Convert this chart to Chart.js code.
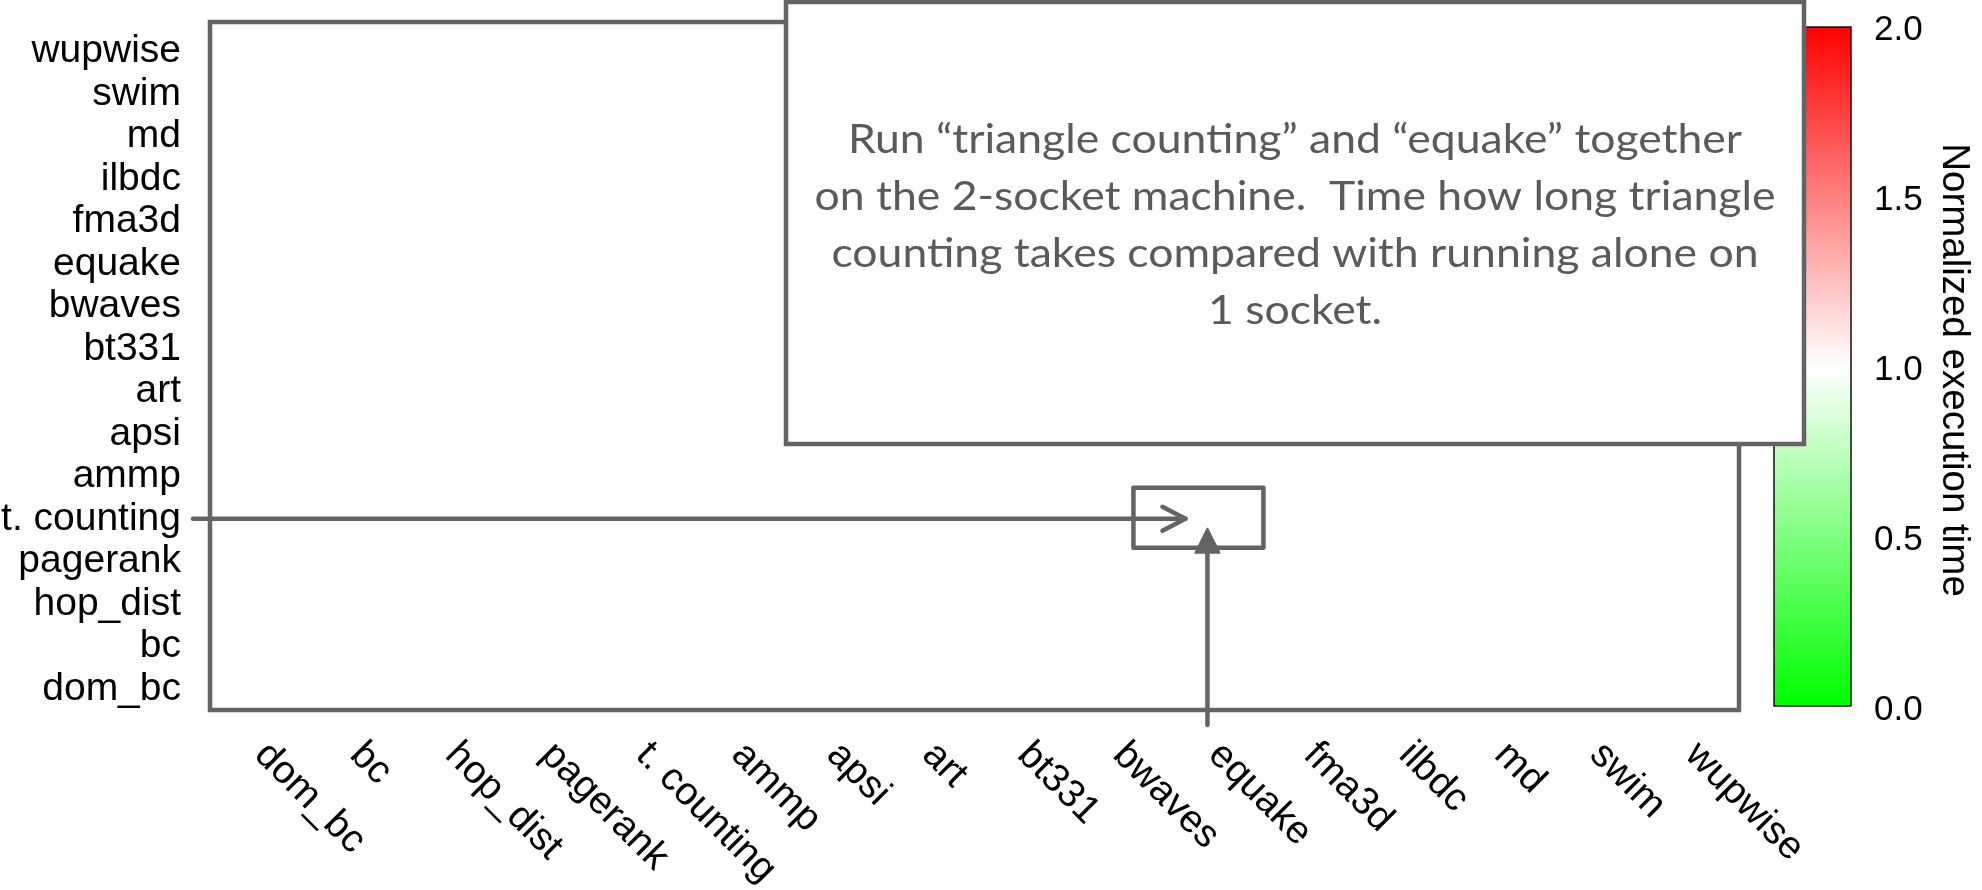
<!DOCTYPE html>
<html><head><meta charset="utf-8">
<script src="https://cdn.jsdelivr.net/npm/chart.js@4.4.1/dist/chart.umd.min.js"></script>
<style>html,body{margin:0;padding:0;background:#fff;}canvas{display:block;}</style>
</head><body>
<canvas id="c" width="1982" height="890"></canvas>
<script>
// ---- data ----
const xLabels = ['dom_bc','bc','hop_dist','pagerank','t. counting','ammp','apsi','art','bt331','bwaves','equake','fma3d','ilbdc','md','swim','wupwise'];
const yLabels = ['wupwise','swim','md','ilbdc','fma3d','equake','bwaves','bt331','art','apsi','ammp','t. counting','pagerank','hop_dist','bc','dom_bc'];
const highlightedPair = [{ x: 'equake', y: 't. counting' }];
const colorbarMin = 0;
const colorbarMax = 2;
const colorbarStep = 0.5;
const colorbarStopValues = [0, 1, 2];
const colorbarStopColors = ['#00ff00', '#ffffff', '#ff0000'];
const colorbarTitle = 'Normalized execution time';
const calloutLines = [
  'Run \u201ctriangle counting\u201d and \u201cequake\u201d together',
  'on the 2-socket machine.  Time how long triangle',
  'counting takes compared with running alone on',
  '1 socket.'
];

// ---- styles ----
const GREY = '#646464';
const LABEL_FONT = '"Liberation Sans", Arial, Helvetica, sans-serif';
const callout = { left: 786, top: 2, right: 1804, bottom: 444, firstBaseline: 153, lineStep: 57, widestLine: 961 };

const annot = {
  id: 'annot',
  afterDraw(chart) {
    const { ctx, chartArea: a, scales } = chart;
    const xs = scales.x, cb = scales.cb;
    const pt = chart.getDatasetMeta(0).data[0];
    const cx = pt.x, cy = pt.y;
    ctx.save();

    // plot frame
    ctx.strokeStyle = GREY; ctx.lineWidth = 4.5; ctx.lineJoin = 'miter';
    ctx.strokeRect(a.left + 4, a.top - 8, (a.right - a.left) + 3, (a.bottom - a.top) + 8);

    // rotated x labels
    ctx.font = '39px ' + LABEL_FONT;
    ctx.fillStyle = '#000'; ctx.textAlign = 'left'; ctx.textBaseline = 'middle';
    xLabels.forEach((lab, i) => {
      const px = xs.getPixelForValue(i);
      ctx.save();
      ctx.translate(px + 7, a.bottom + 39);
      ctx.rotate(Math.PI / 4);
      ctx.fillText(lab, 0, 0);
      ctx.restore();
    });

    // horizontal arrow from row label
    ctx.strokeStyle = GREY; ctx.fillStyle = GREY; ctx.lineWidth = 4.5;
    ctx.lineCap = 'round'; ctx.lineJoin = 'round';
    const tipX = cx - 22;
    ctx.beginPath(); ctx.moveTo(a.left - 13, cy); ctx.lineTo(tipX, cy); ctx.stroke();
    ctx.beginPath(); ctx.moveTo(tipX - 23, cy - 12); ctx.lineTo(tipX, cy); ctx.lineTo(tipX - 23, cy + 12); ctx.stroke();

    // vertical arrow from column label
    const tipY = cy + 10;
    ctx.beginPath(); ctx.moveTo(cx, a.bottom + 15); ctx.lineTo(cx, tipY + 18); ctx.stroke();
    ctx.beginPath(); ctx.moveTo(cx, tipY); ctx.lineTo(cx - 12, tipY + 24); ctx.lineTo(cx + 12, tipY + 24); ctx.closePath();
    ctx.fill(); ctx.lineWidth = 2; ctx.stroke();

    // highlight box
    ctx.lineWidth = 4.5; ctx.lineJoin = 'round';
    ctx.strokeRect(cx - 74, cy - 31, 130, 60);

    // colour bar
    const y2 = cb.getPixelForValue(colorbarMax) - 3;
    const y0 = cb.getPixelForValue(colorbarMin) - 4;
    const bx = cb.left + 42, bw = 77;
    const g = ctx.createLinearGradient(0, y0, 0, y2);
    colorbarStopValues.forEach((v, i) => g.addColorStop((v - colorbarMin) / (colorbarMax - colorbarMin), colorbarStopColors[i]));
    ctx.fillStyle = g;
    ctx.fillRect(bx, y2, bw, y0 - y2);
    ctx.strokeStyle = '#111'; ctx.lineWidth = 1.5; ctx.lineJoin = 'miter';
    ctx.strokeRect(bx, y2, bw, y0 - y2);

    // callout box
    ctx.fillStyle = '#fff';
    ctx.fillRect(callout.left, callout.top, callout.right - callout.left, callout.bottom - callout.top);
    ctx.strokeStyle = GREY; ctx.lineWidth = 4.5;
    ctx.strokeRect(callout.left, callout.top, callout.right - callout.left, callout.bottom - callout.top);

    ctx.font = '41px Lato, "Open Sans", sans-serif';
    const maxW = Math.max(...calloutLines.map(l => ctx.measureText(l).width));
    const sx = callout.widestLine / maxW;
    const mid = (callout.left + callout.right) / 2;
    ctx.fillStyle = '#5a5a5a'; ctx.textAlign = 'center'; ctx.textBaseline = 'alphabetic';
    calloutLines.forEach((line, i) => {
      ctx.save();
      ctx.translate(mid, callout.firstBaseline + i * callout.lineStep);
      ctx.scale(sx, 1);
      ctx.fillText(line, 0, 0);
      ctx.restore();
    });
    ctx.restore();
  }
};

function noVerticalPadding(s, width) {
  s.width = width;
  s.paddingTop = 0;
  s.paddingBottom = 0;
}

new Chart(document.getElementById('c'), {
  type: 'scatter',
  data: {
    datasets: [{ data: highlightedPair, pointRadius: 0, pointHoverRadius: 0, xAxisID: 'x', yAxisID: 'y' }]
  },
  options: {
    responsive: false,
    animation: false,
    events: [],
    layout: { padding: { top: 30, left: 0, right: 0, bottom: 0 } },
    plugins: { legend: { display: false }, tooltip: { enabled: false } },
    scales: {
      x: {
        type: 'category', labels: xLabels, offset: true, position: 'bottom',
        grid: { display: false, drawTicks: false }, border: { display: false },
        ticks: { display: false, autoSkip: false },
        afterFit(s) { s.height = 180; s.paddingLeft = 0; s.paddingRight = 0; }
      },
      y: {
        type: 'category', labels: yLabels, offset: true, position: 'left',
        grid: { display: false, drawTicks: false }, border: { display: false },
        ticks: { autoSkip: false, color: '#000', padding: 25, font: { family: LABEL_FONT, size: 39 } },
        afterFit(s) { noVerticalPadding(s, 206); }
      },
      cb: {
        type: 'linear', position: 'right', min: colorbarMin, max: colorbarMax,
        grid: { display: false, drawTicks: false }, border: { display: false },
        ticks: { stepSize: colorbarStep, callback: v => Number(v).toFixed(1), color: '#000', padding: 142, font: { family: LABEL_FONT, size: 35 } },
        title: { display: true, text: colorbarTitle, color: '#000', font: { family: LABEL_FONT, size: 38.5 }, padding: { top: 5, bottom: 0 } },
        afterFit(s) { noVerticalPadding(s, 250); }
      }
    }
  },
  plugins: [annot]
});
</script>
</body></html>
